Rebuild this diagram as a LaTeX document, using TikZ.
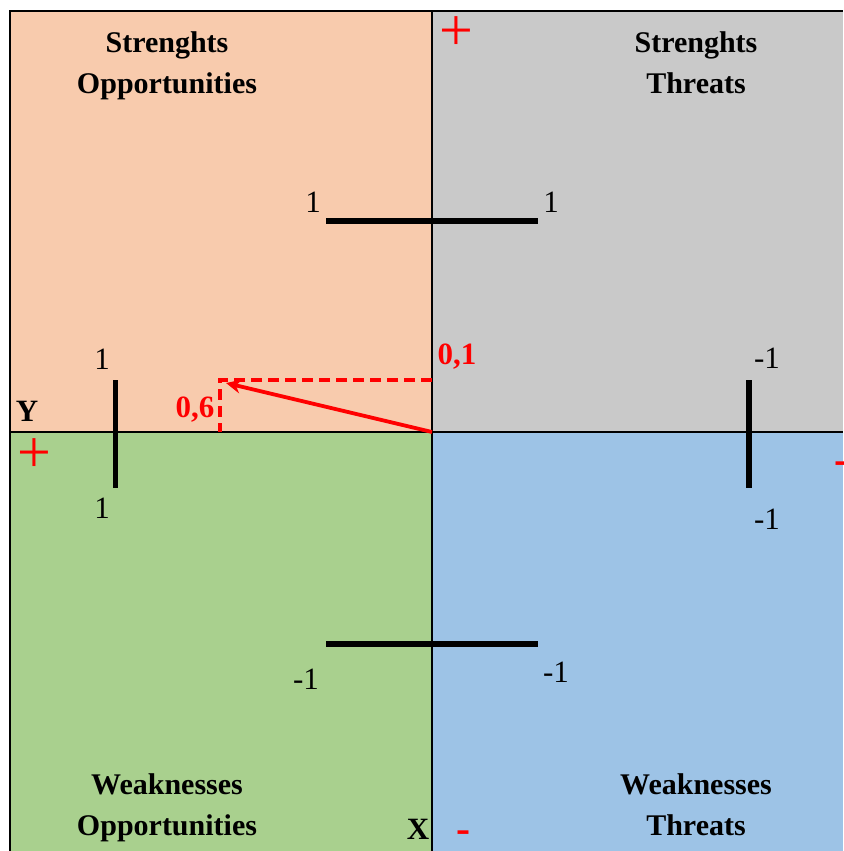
\documentclass[tikz,border=0pt]{standalone}
\usepackage{fontspec}
\setmainfont{Liberation Serif}
\usetikzlibrary{arrows.meta, positioning}
\definecolor{swotorange}{RGB}{248,203,173}
\definecolor{swotgray}{RGB}{201,201,201}
\definecolor{swotgreen}{RGB}{169,208,142}
\definecolor{swotblue}{RGB}{157,195,230}
\definecolor{swotred}{RGB}{255,0,0}

\begin{document}
\begin{tikzpicture}[x=1pt, y=-1pt,
  title/.style={align=center, inner sep=0pt, font=\fontsize{30}{41}\selectfont\bfseries},
  tick/.style={inner sep=0pt, font=\fontsize{31}{31}\selectfont},
  val/.style={inner sep=0pt, text=swotred, font=\fontsize{31}{31}\selectfont\bfseries},
  axname/.style={inner sep=0pt, font=\fontsize{31}{31}\selectfont\bfseries},
  sign/.style={inner sep=0pt, text=swotred, font=\fontsize{60}{60}\selectfont},
  dash sign/.style={inner sep=0pt, text=swotred, font=\fontsize{42}{42}\selectfont\bfseries},
  bar/.style={line width=5.5pt},
  guide/.style={swotred, line width=3.6pt, dash pattern=on 11pt off 6pt},
  arr/.style={-{Stealth[length=15pt, width=14pt]}, line width=3.8pt, swotred}
]
\useasboundingbox (0,0) rectangle (843,851);
\clip (0,0) rectangle (843,851);

% quadrants
\fill[swotorange] (10,11) rectangle (432,432);
\fill[swotgray]   (432,11) rectangle (843,432);
\fill[swotgreen]  (10,432) rectangle (432,851);
\fill[swotblue]   (432,432) rectangle (843,851);

% frame and axes
\draw[line width=2.4pt] (10,851) -- (10,11) -- (843,11);
\coordinate (o) at (432,432);
\draw[line width=1.8pt] (432,11) -- (o) -- (432,851);
\draw[line width=1.8pt] (10,432) -- (o) -- (843,432);

% titles
\node[title] (so) at (167,65)  {Strenghts\strut\\Opportunities\strut};
\node[title] (st) at (696,65)  {Strenghts\strut\\Threats\strut};
\node[title] (wo) at (167,807) {Weaknesses\strut\\Opportunities\strut};
\node[title] (wt) at (696,807) {Weaknesses\strut\\Threats\strut};

% scale bars
\draw[bar] (326,221) -- (538,221);
\draw[bar] (326,644) -- (538,644);
\draw[bar] (115.5,380) -- (115.5,488);
\draw[bar] (749,380) -- (749,488);

\node[tick] (t1) at (313,202) {1};
\node[tick] (t2) at (551,202) {1};
\node[tick] (b1) at (306,679) {-1};
\node[tick] (b2) at (556,672) {-1};
\node[tick] (l1) at (102,359) {1};
\node[tick] (l2) at (102,508) {1};
\node[tick] (r1) at (767,358) {-1};
\node[tick] (r2) at (767,519) {-1};

% axis names and signs
\node[axname] (ylab) at (27,411) {Y};
\node[axname] (xlab) at (418,829) {X};
\node[sign] (ptop)  at (456,34)  {+};
\node[sign] (pleft) at (34,456)  {+};
\node[dash sign] (mbot)   at (463,837) {-};
\node[dash sign] (mright) at (841,468) {-};

% result vector
\coordinate (p) at (220,380);
\coordinate (py) at (432,380);
\coordinate (px) at (220,432);
\draw[guide] (py) -- (p) -- (px);
\draw[arr] (o) -- ([shift={(6pt,-3pt)}]p);
\node[val] (v1) at (457,357) {0,1};
\node[val] (v6) at (195,410) {0,6};

\end{tikzpicture}
\end{document}
